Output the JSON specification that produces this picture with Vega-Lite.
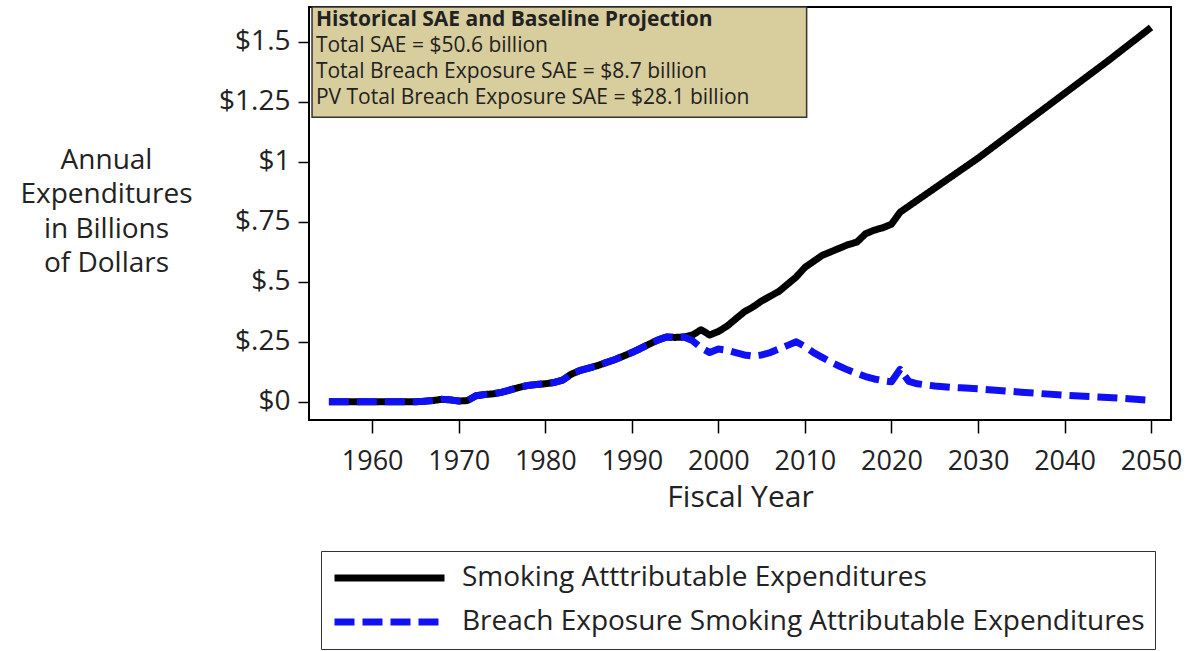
{
  "$schema": "https://vega.github.io/schema/vega-lite/v6.json",
  "autosize": "none",
  "width": 862,
  "height": 413,
  "padding": {"left": 309, "top": 7, "right": 25, "bottom": 231},
  "background": "white",
  "config": {
    "view": {"stroke": "black", "strokeWidth": 2},
    "font": "Open Sans",
    "axis": {"grid": false, "domain": false, "tickColor": "black", "tickWidth": 1.5, "labelColor": "#222", "titleColor": "#222", "labelFont": "Open Sans", "titleFont": "Open Sans", "titleFontWeight": "normal"}
  },
  "datasets": {
    "sae": [
      {"year": 1955, "S": 0, "B": 0}, {"year": 1956, "S": 0, "B": 0}, {"year": 1957, "S": 0, "B": 0}, {"year": 1958, "S": 0, "B": 0},
      {"year": 1959, "S": 0, "B": 0}, {"year": 1960, "S": 0, "B": 0}, {"year": 1961, "S": 0, "B": 0}, {"year": 1962, "S": 0, "B": 0},
      {"year": 1963, "S": 0, "B": 0}, {"year": 1964, "S": 0, "B": 0}, {"year": 1965, "S": 0, "B": 0}, {"year": 1966, "S": 0.002, "B": 0.002},
      {"year": 1967, "S": 0.005, "B": 0.005}, {"year": 1968, "S": 0.01, "B": 0.01}, {"year": 1969, "S": 0.008, "B": 0.008}, {"year": 1970, "S": 0.003, "B": 0.003},
      {"year": 1971, "S": 0.005, "B": 0.005}, {"year": 1972, "S": 0.025, "B": 0.025}, {"year": 1973, "S": 0.03, "B": 0.03}, {"year": 1974, "S": 0.033, "B": 0.033},
      {"year": 1975, "S": 0.04, "B": 0.04}, {"year": 1976, "S": 0.05, "B": 0.05}, {"year": 1977, "S": 0.06, "B": 0.06}, {"year": 1978, "S": 0.068, "B": 0.068},
      {"year": 1979, "S": 0.072, "B": 0.072}, {"year": 1980, "S": 0.075, "B": 0.075}, {"year": 1981, "S": 0.08, "B": 0.08}, {"year": 1982, "S": 0.09, "B": 0.09},
      {"year": 1983, "S": 0.115, "B": 0.115}, {"year": 1984, "S": 0.13, "B": 0.13}, {"year": 1985, "S": 0.14, "B": 0.14}, {"year": 1986, "S": 0.15, "B": 0.15},
      {"year": 1987, "S": 0.163, "B": 0.163}, {"year": 1988, "S": 0.175, "B": 0.175}, {"year": 1989, "S": 0.19, "B": 0.19}, {"year": 1990, "S": 0.205, "B": 0.205},
      {"year": 1991, "S": 0.222, "B": 0.222}, {"year": 1992, "S": 0.24, "B": 0.24}, {"year": 1993, "S": 0.257, "B": 0.257}, {"year": 1994, "S": 0.27, "B": 0.27},
      {"year": 1995, "S": 0.268, "B": 0.268}, {"year": 1996, "S": 0.27, "B": 0.27}, {"year": 1997, "S": 0.278, "B": 0.255}, {"year": 1998, "S": 0.3, "B": 0.225},
      {"year": 1999, "S": 0.278, "B": 0.205}, {"year": 2000, "S": 0.293, "B": 0.22}, {"year": 2001, "S": 0.315, "B": 0.215}, {"year": 2002, "S": 0.345, "B": 0.205},
      {"year": 2003, "S": 0.375, "B": 0.195}, {"year": 2004, "S": 0.395, "B": 0.19}, {"year": 2005, "S": 0.42, "B": 0.195}, {"year": 2006, "S": 0.44, "B": 0.205},
      {"year": 2007, "S": 0.46, "B": 0.22}, {"year": 2008, "S": 0.49, "B": 0.235}, {"year": 2009, "S": 0.52, "B": 0.25}, {"year": 2010, "S": 0.56, "B": 0.23},
      {"year": 2011, "S": 0.585, "B": 0.205}, {"year": 2012, "S": 0.61, "B": 0.185}, {"year": 2013, "S": 0.625, "B": 0.165}, {"year": 2014, "S": 0.64, "B": 0.148},
      {"year": 2015, "S": 0.655, "B": 0.132}, {"year": 2016, "S": 0.665, "B": 0.118}, {"year": 2017, "S": 0.7, "B": 0.105}, {"year": 2018, "S": 0.715, "B": 0.095},
      {"year": 2019, "S": 0.725, "B": 0.088}, {"year": 2020, "S": 0.74, "B": 0.083}, {"year": 2021, "S": 0.79, "B": 0.135}, {"year": 2022, "S": 0.815, "B": 0.085},
      {"year": 2023, "S": 0.84, "B": 0.075}, {"year": 2024, "S": 0.865, "B": 0.07}, {"year": 2025, "S": 0.89, "B": 0.066}, {"year": 2026, "S": 0.915, "B": 0.063},
      {"year": 2027, "S": 0.94, "B": 0.06}, {"year": 2028, "S": 0.965, "B": 0.058}, {"year": 2029, "S": 0.99, "B": 0.056}, {"year": 2030, "S": 1.015, "B": 0.054},
      {"year": 2035, "S": 1.15, "B": 0.04}, {"year": 2040, "S": 1.285, "B": 0.027}, {"year": 2045, "S": 1.42, "B": 0.018}, {"year": 2050, "S": 1.56, "B": 0.006}
    ]
  },
  "layer": [
    {
      "data": {"name": "sae"},
      "transform": [
        {"fold": ["S", "B"], "as": ["key", "value"]},
        {"calculate": "datum.key === 'S' ? 'Smoking Atttributable Expenditures' : 'Breach Exposure Smoking Attributable Expenditures'", "as": "series"}
      ],
      "mark": {"type": "line", "strokeWidth": 7, "strokeCap": "butt", "strokeJoin": "round"},
      "encoding": {
        "x": {
          "field": "year", "type": "quantitative",
          "scale": {"domain": [1952.7, 2052.3], "nice": false, "zero": false},
          "axis": {"values": [1960, 1970, 1980, 1990, 2000, 2010, 2020, 2030, 2040, 2050], "format": "d", "title": "Fiscal Year", "labelFontSize": 27, "titleFontSize": 30, "tickSize": 13, "labelPadding": 15, "titlePadding": 8, "labelFlush": false}
        },
        "y": {
          "field": "value", "type": "quantitative",
          "scale": {"domain": [-0.076, 1.645], "nice": false, "zero": false},
          "axis": {
            "values": [0, 0.25, 0.5, 0.75, 1, 1.25, 1.5],
            "labelExpr": "datum.value > 0 && datum.value < 1 ? '$' + slice(format(datum.value, '.2~f'), 1) : '$' + format(datum.value, '.2~f')",
            "labelFontSize": 28, "tickSize": 11, "labelPadding": 8,
            "title": ["Annual", "Expenditures", "in Billions", "of Dollars"],
            "titleAngle": 0, "titleAlign": "center", "titleBaseline": "top", "titleX": -203, "titleY": 139,
            "titleFontSize": 28, "titleLineHeight": 34.5
          }
        },
        "color": {
          "field": "series", "type": "nominal",
          "scale": {"domain": ["Smoking Atttributable Expenditures", "Breach Exposure Smoking Attributable Expenditures"], "range": ["black", "#1010f5"]},
          "legend": {
            "title": null, "orient": "none", "legendX": 12, "legendY": 544, "direction": "vertical",
            "strokeColor": "#333", "padding": 10, "symbolType": "stroke", "symbolSize": 12100, "symbolStrokeWidth": 7,
            "labelFontSize": 28, "labelFont": "Open Sans", "labelColor": "#222", "labelLimit": 1000, "labelOffset": 14,
            "clipHeight": 34, "rowPadding": 10, "fillColor": "white"
          }
        },
        "strokeDash": {
          "field": "series", "type": "nominal",
          "scale": {"domain": ["Smoking Atttributable Expenditures", "Breach Exposure Smoking Attributable Expenditures"], "range": [[1, 0], [20, 8]]},
          "legend": null
        },
        "order": {"field": "key", "sort": "descending"}
      }
    },
    {
      "data": {"values": [{"box": "annotation"}]},
      "mark": {"type": "rect", "fill": "#d8cd9c", "stroke": "#333", "strokeWidth": 1.5},
      "encoding": {
        "x": {"datum": 1953.05, "type": "quantitative"},
        "x2": {"datum": 2010.2},
        "y": {"datum": 1.645, "type": "quantitative"},
        "y2": {"datum": 1.186}
      }
    },
    {
      "data": {"values": [{"label": "Historical SAE and Baseline Projection"}]},
      "mark": {"type": "text", "align": "left", "baseline": "middle", "fontSize": 21, "fontWeight": "bold", "font": "Open Sans", "color": "#222"},
      "encoding": {
        "x": {"datum": 1953.5, "type": "quantitative"},
        "y": {"datum": 1.592, "type": "quantitative"},
        "text": {"field": "label"}
      }
    },
    {
      "data": {"values": [{"label": "Total SAE = $50.6 billion"}]},
      "mark": {"type": "text", "align": "left", "baseline": "middle", "fontSize": 21, "font": "Open Sans", "color": "#222"},
      "encoding": {
        "x": {"datum": 1953.5, "type": "quantitative"},
        "y": {"datum": 1.484, "type": "quantitative"},
        "text": {"field": "label"}
      }
    },
    {
      "data": {"values": [{"label": "Total Breach Exposure SAE = $8.7 billion"}]},
      "mark": {"type": "text", "align": "left", "baseline": "middle", "fontSize": 21, "font": "Open Sans", "color": "#222"},
      "encoding": {
        "x": {"datum": 1953.5, "type": "quantitative"},
        "y": {"datum": 1.376, "type": "quantitative"},
        "text": {"field": "label"}
      }
    },
    {
      "data": {"values": [{"label": "PV Total Breach Exposure SAE = $28.1 billion"}]},
      "mark": {"type": "text", "align": "left", "baseline": "middle", "fontSize": 21, "font": "Open Sans", "color": "#222"},
      "encoding": {
        "x": {"datum": 1953.5, "type": "quantitative"},
        "y": {"datum": 1.266, "type": "quantitative"},
        "text": {"field": "label"}
      }
    }
  ]
}
